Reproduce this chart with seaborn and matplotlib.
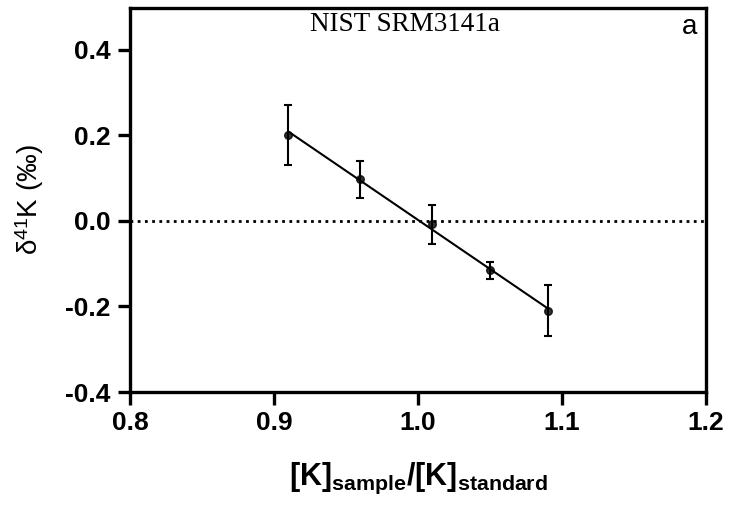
import numpy as np
import pandas as pd
import seaborn as sns
import matplotlib
matplotlib.use("Agg")
import matplotlib.pyplot as plt

ratio = [0.91, 0.96, 1.01, 1.05, 1.09]
delta41K = [0.202, 0.097, -0.008, -0.115, -0.210]
err = [0.070, 0.043, 0.045, 0.020, 0.060]
xticks = [0.8, 0.9, 1.0, 1.1, 1.2]
yticks = [-0.4, -0.2, 0.0, 0.2, 0.4]

df = pd.DataFrame({"ratio": ratio, "d41K": delta41K, "err": err})

sns.set_theme(style="ticks")
plt.rcParams["font.family"] = ["Liberation Sans", "DejaVu Sans"]
plt.rcParams["text.color"] = "black"
plt.rcParams["axes.labelcolor"] = "black"
plt.rcParams["mathtext.fontset"] = "custom"
plt.rcParams["mathtext.rm"] = "Liberation Sans"
plt.rcParams["mathtext.it"] = "Liberation Serif:italic"
plt.rcParams["mathtext.bf"] = "Liberation Sans:bold"

fig = plt.figure(figsize=(7.29, 5.14), dpi=100)
ax = fig.add_axes([130 / 729, 1 - 392 / 514, 576 / 729, 384 / 514])

ax.axhline(0, color="black", lw=2, ls=(0, (1, 1.6)), zorder=1)
ax.errorbar(df["ratio"], df["d41K"], yerr=df["err"], fmt="none",
            ecolor="black", elinewidth=1.5, capsize=3.2, capthick=1.5, zorder=2)
sns.regplot(data=df, x="ratio", y="d41K", ci=None, ax=ax,
            scatter_kws=dict(color="black", s=30, zorder=3),
            line_kws=dict(color="black", lw=1.5, zorder=2))

ax.set_xlim(0.8, 1.2)
ax.set_ylim(-0.4, 0.498)
ax.set_xticks(xticks)
ax.set_xticklabels([f"{v:.1f}" for v in xticks])
ax.set_yticks(yticks)
ax.set_yticklabels([f"{v:.1f}" for v in yticks])
for lab in ax.get_xticklabels() + ax.get_yticklabels():
    lab.set_fontweight("bold")
    lab.set_fontsize(19)
ax.tick_params(axis="both", width=2.4, length=9, direction="out", colors="black", pad=5)

for s in ax.spines.values():
    s.set_linewidth(2.4)
    s.set_color("black")

ax.set_xlabel(r"$\mathbf{[K]_{sample}/[K]_{standard}}$", fontsize=22, labelpad=18)
ax.set_ylabel(r"δ$^{41}$K ($\mathit{‰}$)", fontsize=20, labelpad=14)

ax.text(0.477, 0.99, "NIST SRM3141a", transform=ax.transAxes, ha="center", va="top",
        fontsize=19.5, family="Liberation Serif", color="black")
ax.text(0.985, 0.985, "a", transform=ax.transAxes, ha="right", va="top", fontsize=20,
        color="black")

fig.savefig("out.png", dpi=100)
